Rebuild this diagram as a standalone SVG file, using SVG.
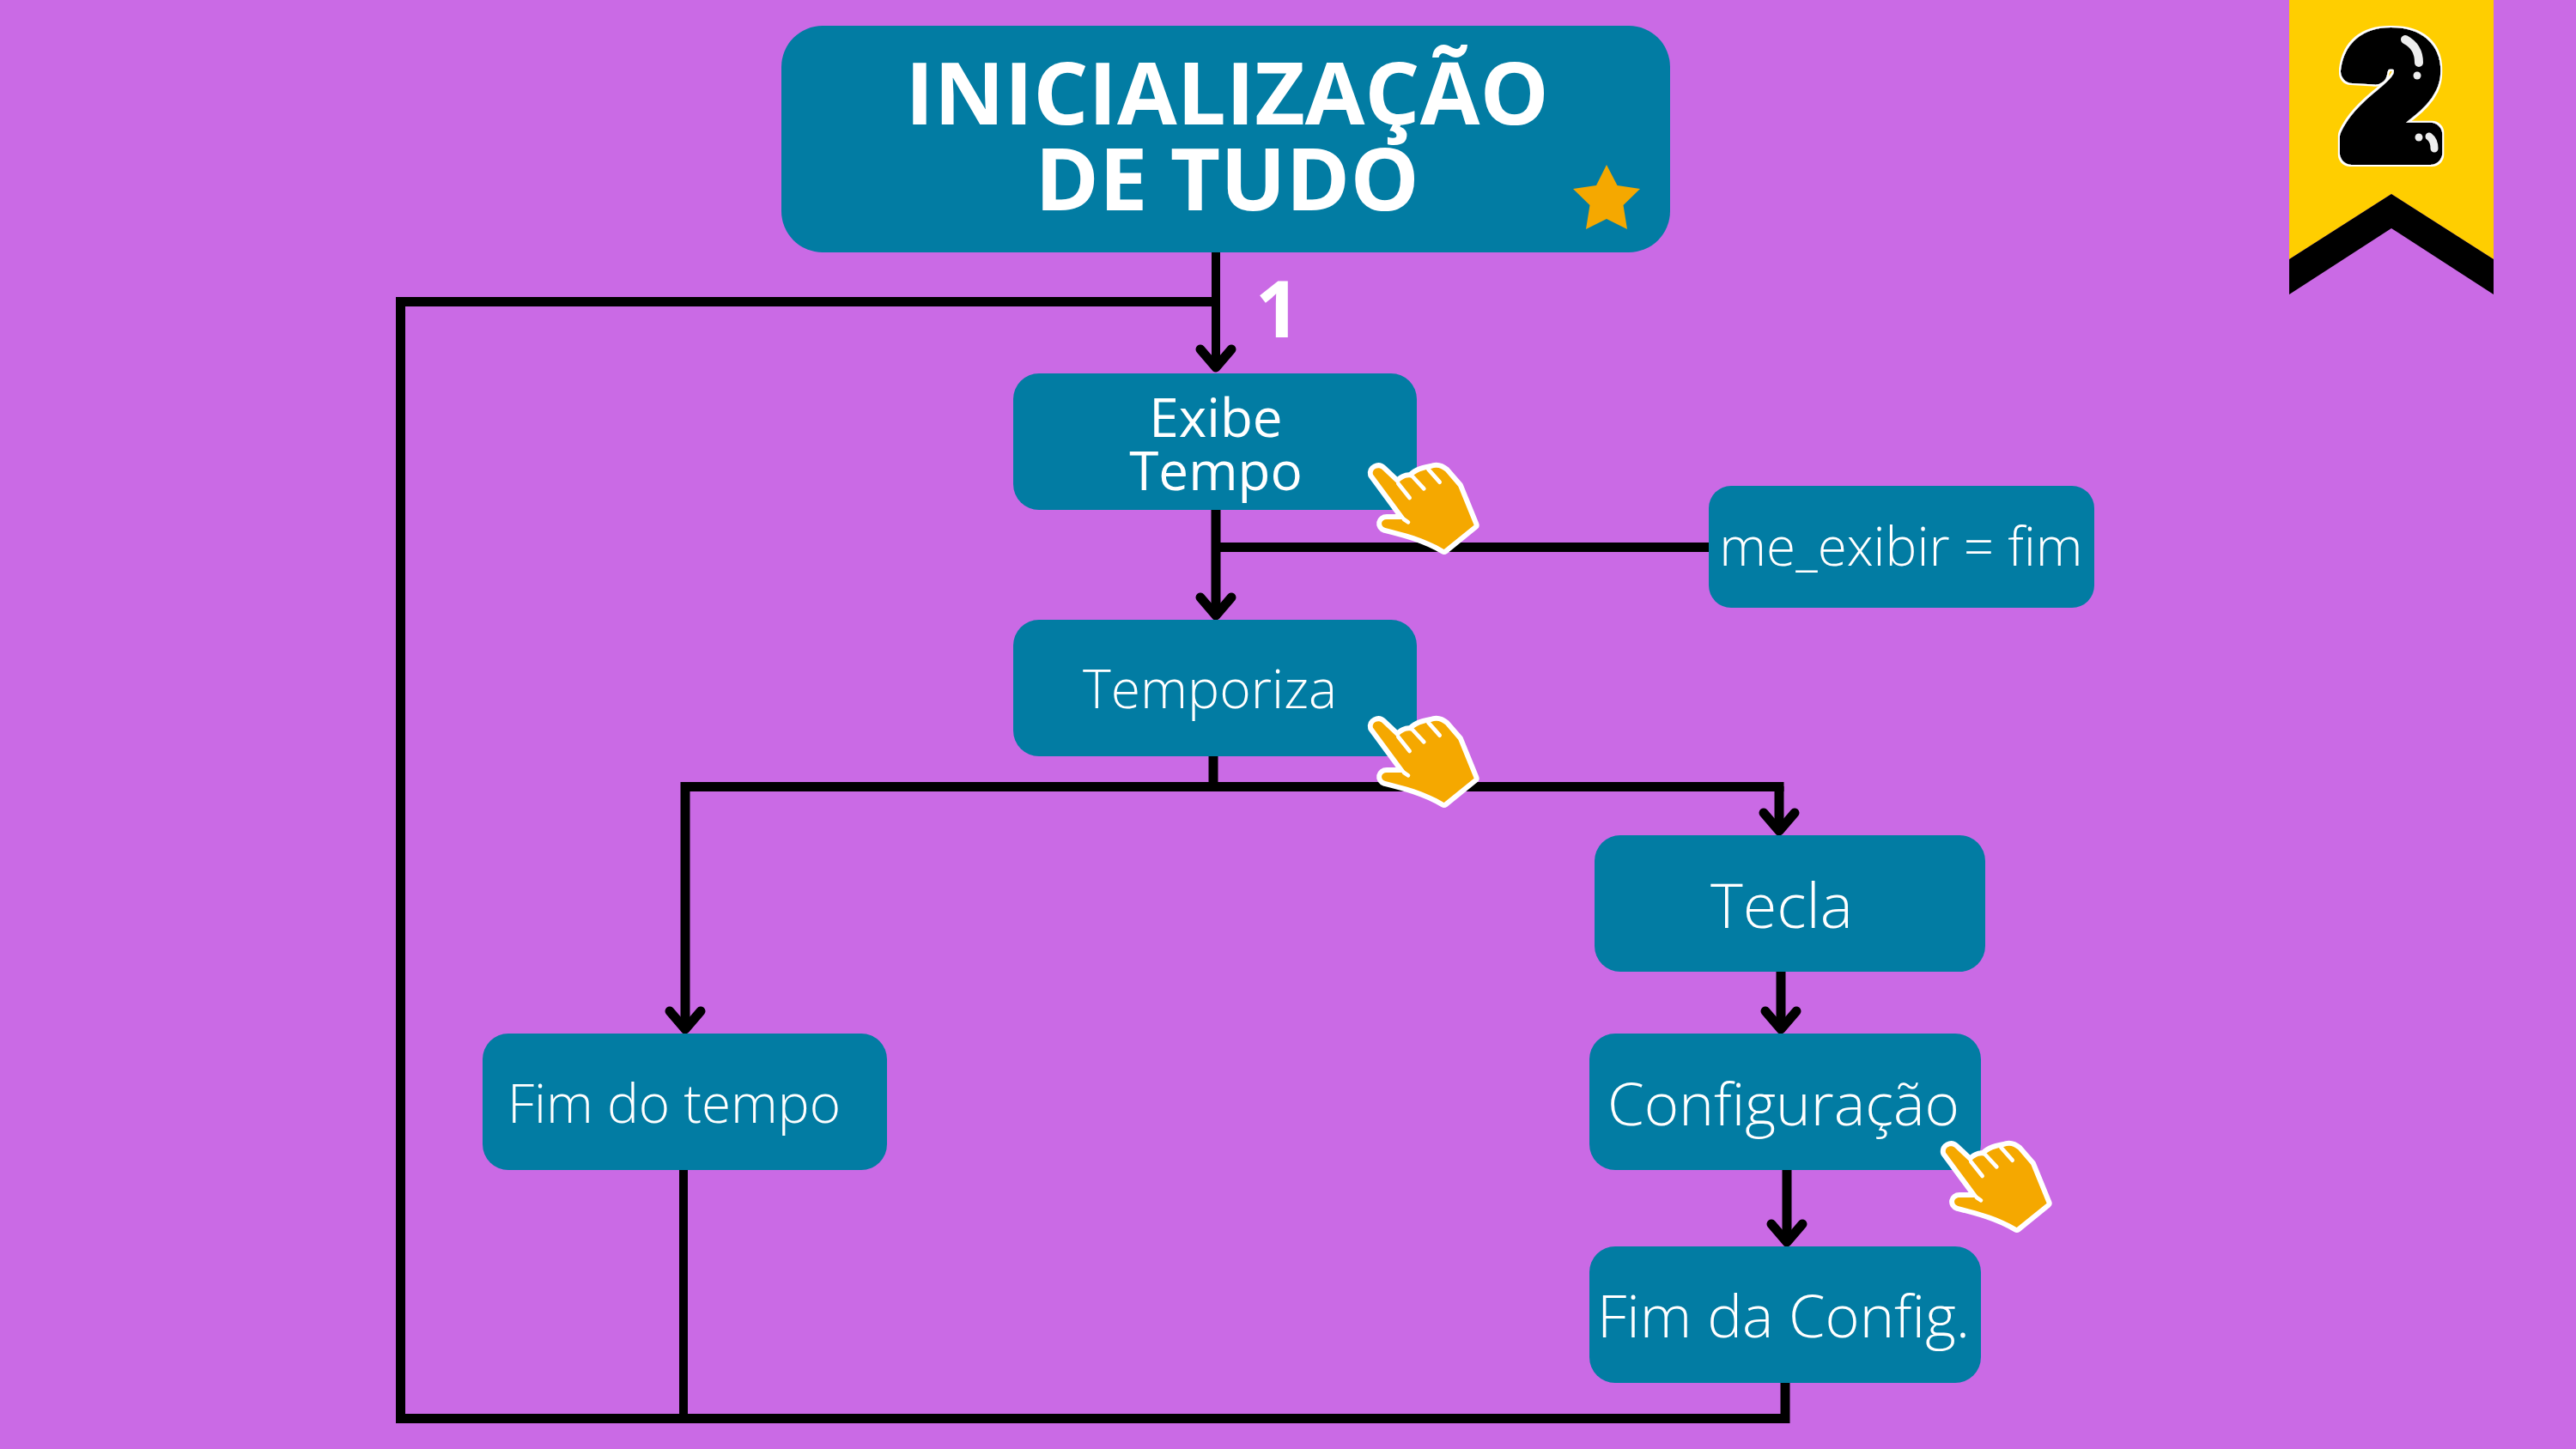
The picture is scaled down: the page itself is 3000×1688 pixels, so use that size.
<svg xmlns="http://www.w3.org/2000/svg" width="3000" height="1688" viewBox="0 0 3000 1688">
<style>
.box{fill:#027ca3}
.t{fill:#fff;font-family:"Open Sans","Noto Sans","Liberation Sans",sans-serif;text-anchor:middle}
.l{font-weight:300}
.b{font-weight:700}
.c{fill:none;stroke:#000;stroke-width:11}
.hand-o{fill:#f5a800;stroke:#fff;stroke-width:36;stroke-linejoin:round;paint-order:stroke}
.hand-l{fill:none;stroke:#fff;stroke-width:14;stroke-linecap:round}
.hl{fill:none;stroke:#eee;stroke-linecap:round}
</style>
<defs>
<marker id="arrow" markerUnits="userSpaceOnUse" viewBox="-34 -26 42 52" markerWidth="42" markerHeight="52" refX="0" refY="0" orient="auto">
<path d="M-20,-18 L1,0 L-20,18" fill="none" stroke="#000" stroke-width="11" stroke-linecap="round" stroke-linejoin="round"/>
</marker>
<g id="hand">
<path class="hand-o" d="M117,158 C112,140 135,128 150,142 L203,192 C215,175 235,165 250,170 C265,150 295,142 320,138 C340,130 355,135 370,148 L415,200 L470,335 L365,420 C300,380 220,360 160,345 C140,338 145,315 165,315 L225,315 L240,325 Z"/>
<path class="hand-l" d="M205,190 L245,240 M255,165 L295,208 M310,140 L350,185 M225,315 L240,325"/>
</g>
<filter id="halo" x="-10%" y="-10%" width="120%" height="120%">
<feMorphology in="SourceAlpha" operator="dilate" radius="1.5" result="d"/>
<feFlood flood-color="#fff"/>
<feComposite in2="d" operator="in" result="w"/>
<feMerge><feMergeNode in="w"/><feMergeNode in="SourceGraphic"/></feMerge>
</filter>
</defs>
<rect width="3000" height="1688" fill="#ca6ae5"/>
<g id="connectors">
<path class="c" style="stroke-width:10" d="M1416,294 V427" marker-end="url(#arrow)"/>
<path class="c" d="M1421,351.5 H466.5 V1652.5 H2079 V1611"/>
<path class="c" style="stroke-width:10" d="M796,1363 V1652"/>
<path class="c" d="M1416,594 V716" marker-end="url(#arrow)"/>
<path class="c" d="M1990,637.5 H1416"/>
<path class="c" d="M1413,881 V916"/>
<path class="c" d="M2077.5,916.5 H798 V1198" marker-end="url(#arrow)"/>
<path class="c" d="M2072,916 V967" marker-end="url(#arrow)"/>
<path class="c" d="M2074,1132 V1198" marker-end="url(#arrow)"/>
<path class="c" d="M2081,1363 V1446" marker-end="url(#arrow)"/>
</g>
<g id="node-title">
<rect class="box" x="910" y="30" width="1035" height="264" rx="48"/>
<text class="t b" font-size="101" x="1429" y="145">INICIALIZAÇÃO</text>
<text class="t b" font-size="101" x="1429" y="245">DE TUDO</text>
<path d="M1871,192 L1883.5,216 L1910,220 L1890.5,239 L1895,267 L1871,255 L1847,267 L1851.5,239 L1832,220 L1859,216 Z" fill="#f5a800"/>
</g>
<g id="label-1"><text class="t b" font-size="92" x="1488" y="393">1</text></g>
<g id="node-exibe">
<rect class="box" x="1180" y="435" width="470" height="159" rx="30"/>
<text class="t" font-size="62" x="1416" y="509">Exibe</text>
<text class="t" font-size="62" x="1416" y="571">Tempo</text>
</g>
<g id="node-me-exibir">
<rect class="box" x="1990" y="566" width="449" height="142" rx="26"/>
<text class="t l" font-size="62" x="2214" y="659">me_exibir = fim</text>
</g>
<g id="node-temporiza">
<rect class="box" x="1180" y="722" width="470" height="159" rx="30"/>
<text class="t l" font-size="62.4" x="1409" y="825">Temporiza</text>
</g>
<g id="node-tecla">
<rect class="box" x="1857" y="973" width="455" height="159" rx="30"/>
<text class="t l" font-size="72" x="2075" y="1081">Tecla</text>
</g>
<g id="node-fim-tempo">
<rect class="box" x="562" y="1204" width="471" height="159" rx="30"/>
<text class="t l" font-size="62" x="785" y="1308">Fim do tempo</text>
</g>
<g id="node-configuracao">
<rect class="box" x="1851" y="1204" width="456" height="159" rx="30"/>
<text class="t l" font-size="69" x="2077" y="1311">Configuração</text>
</g>
<g id="node-fim-config">
<rect class="box" x="1851" y="1452" width="456" height="159" rx="30"/>
<text class="t l" font-size="68.5" x="2077" y="1558">Fim da Config.</text>
</g>
<g id="hands">
<use href="#hand" transform="translate(1560,500) scale(.3333)"/>
<use href="#hand" transform="translate(1560,795) scale(.3333)"/>
<use href="#hand" transform="translate(2227,1290) scale(.3333)"/>
</g>
<g id="badge">
<path d="M2666,0 H2904 V302 L2785,226 L2666,302 Z" fill="#ffce00"/>
<path d="M2666,302 L2785,226 L2904,302 V343 L2785,266 L2666,343 Z" fill="#000"/>
<text x="2785" y="178" font-size="190" text-anchor="middle" font-weight="700" font-family="'Liberation Sans',sans-serif" fill="#000" stroke="#000" stroke-width="28" stroke-linejoin="round" filter="url(#halo)">2</text>
<path class="hl" stroke-width="10" d="M2801,46 C2812,52 2817,60 2817,73"/>
<circle cx="2815" cy="88" r="4.5" fill="#eee"/>
<circle cx="2817" cy="160" r="4.5" fill="#eee"/>
<path class="hl" stroke-width="9" d="M2829,159 C2833,162 2835,168 2835,173"/>
</g>
</svg>
